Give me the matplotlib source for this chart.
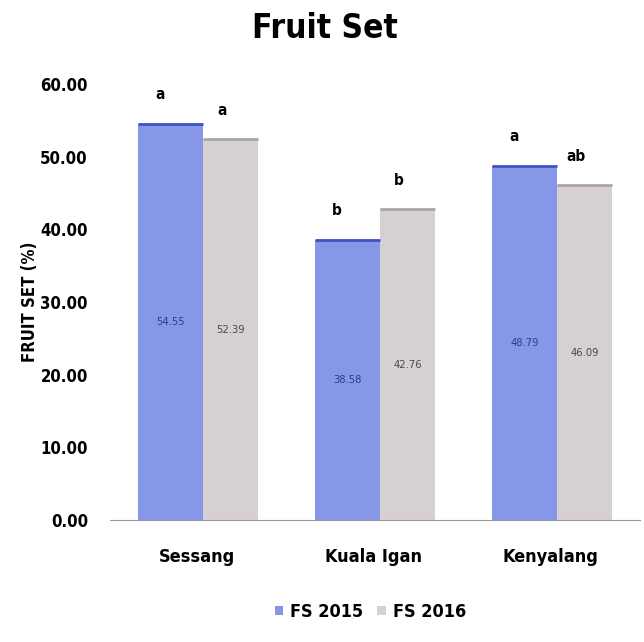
import matplotlib.pyplot as plt
import numpy as np

plt.rcParams['font.family'] = ['DejaVu Sans']
plt.rcParams['font.stretch'] = 'condensed'

sites = ['Sessang', 'Kuala Igan', 'Kenyalang']
fs_2015 = [54.55, 38.58, 48.79]
fs_2016 = [52.39, 42.76, 46.09]
letters_2015 = ['a', 'b', 'a']
letters_2016 = ['a', 'b', 'ab']
yticks = [0, 10, 20, 30, 40, 50, 60]

fig = plt.figure(figsize=(6.44, 6.42), dpi=100)
ax = fig.add_axes([0.171, 0.19, 0.823, 0.679])

x = np.arange(len(sites))
w1, w2 = 0.367, 0.31
b1 = ax.bar(x, fs_2015, -w1, align='edge', color='#8797e8', edgecolor='none', label='FS 2015')
b2 = ax.bar(x, fs_2016, w2, align='edge', color='#d6d0d3', edgecolor='none', label='FS 2016')

# darker rim along the top of each bar
for bars, col in ((b1, '#3d52c4'), (b2, '#a9a6a9')):
    for r in bars:
        ax.plot([r.get_x(), r.get_x() + r.get_width()], [r.get_height()] * 2,
                color=col, lw=2, solid_capstyle='butt')

ax.bar_label(b1, labels=[f'{v:.2f}' for v in fs_2015], label_type='center',
             fontsize=8, color='#2f3d80')
ax.bar_label(b2, labels=[f'{v:.2f}' for v in fs_2016], label_type='center',
             fontsize=8, color='#4a464a')

for xi, v, t in zip(x - w1 / 2 - 0.06, fs_2015, letters_2015):
    ax.text(xi, v + 4.0, t, ha='center', va='center', fontsize=11, fontweight='bold')
for xi, v, t in zip(x + w2 / 2 - 0.05, fs_2016, letters_2016):
    ax.text(xi, v + 4.0, t, ha='center', va='center', fontsize=11, fontweight='bold')

ax.set_ylim(0, 60)
ax.set_xlim(-0.525, 2.469)
ax.set_yticks(yticks)
ax.set_yticklabels([f'{t:.2f}' for t in yticks], fontsize=12, fontweight='bold')
ax.set_xticks(x - 0.035)
ax.set_xticklabels(sites, fontsize=13, fontweight='bold')
ax.tick_params(axis='x', length=0, pad=20)
ax.tick_params(axis='y', length=0, pad=16)
for s in ('top', 'right', 'left'):
    ax.spines[s].set_visible(False)
ax.spines['bottom'].set_color('#9a9a9a')
ax.set_ylabel('FRUIT SET (%)', fontsize=12, fontweight='bold', labelpad=1)

fig.text(0.505, 0.955, 'Fruit Set', ha='center', va='center', fontsize=24, fontweight='bold')

fig.legend(handles=[b1, b2], loc='center', bbox_to_anchor=(0.575, 0.047), ncol=2,
           frameon=False, prop={'weight': 'bold', 'size': 13, 'stretch': 'condensed'},
           handlelength=0.45, handleheight=0.45, handletextpad=0.4, columnspacing=0.8)

fig.savefig('out.png', dpi=100)
